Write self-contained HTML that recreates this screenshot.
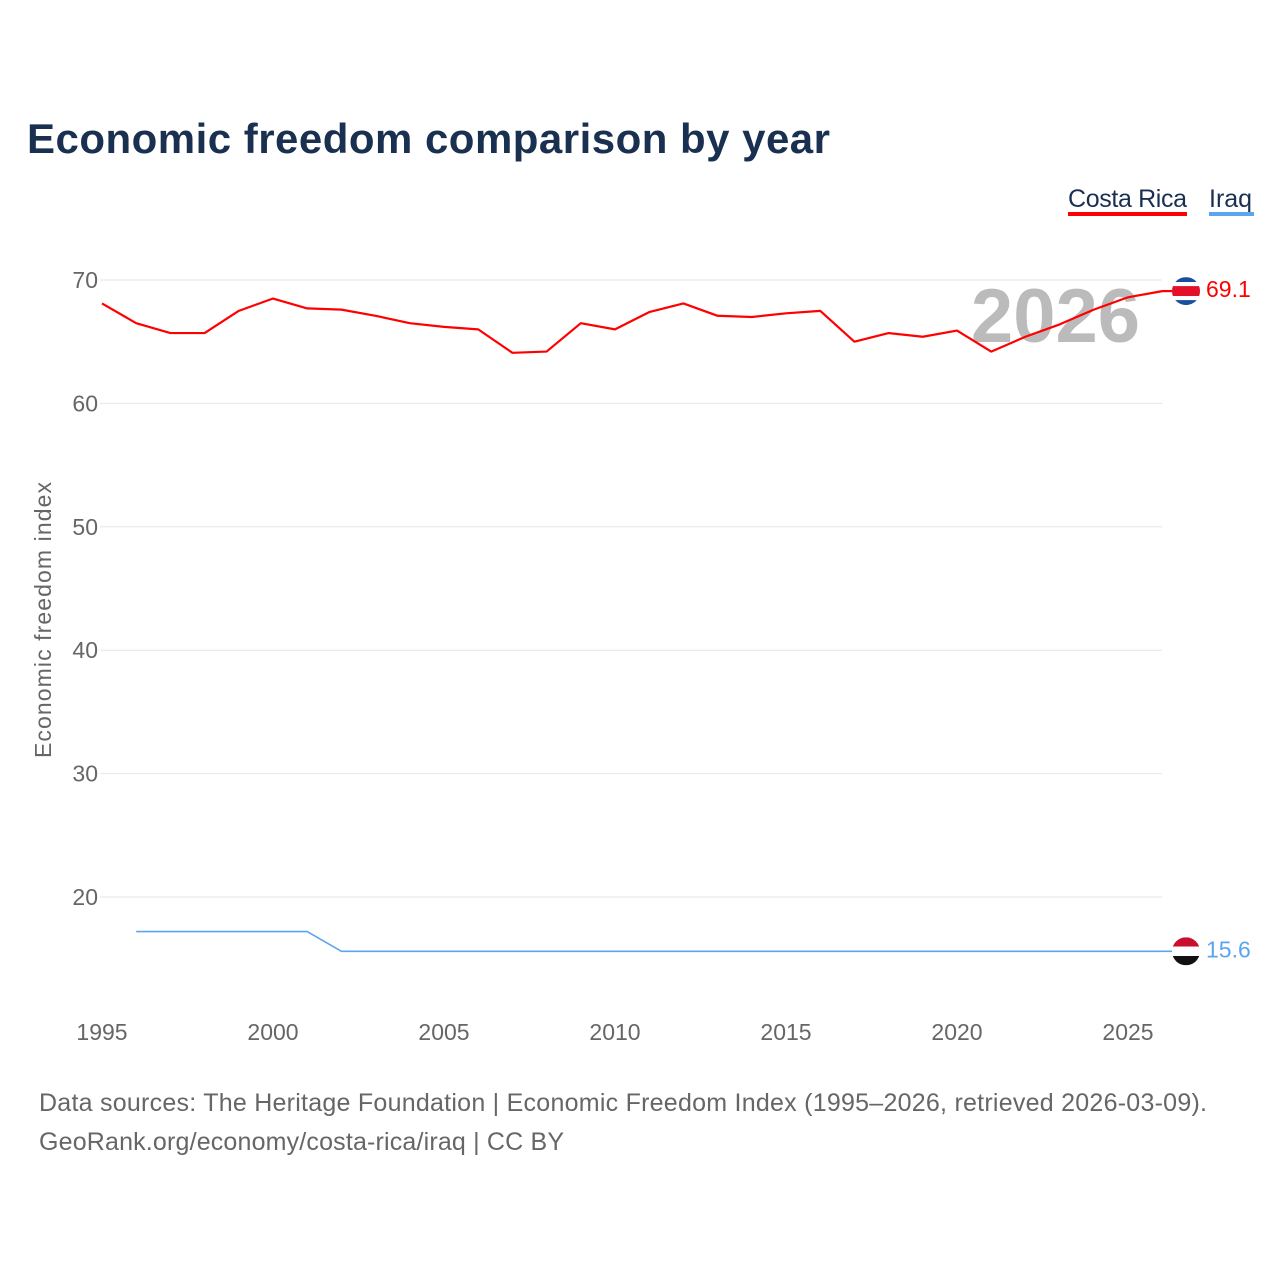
<!DOCTYPE html>
<html><head><meta charset="utf-8">
<style>
body{margin:0;background:#fff;width:1280px;height:1280px;overflow:hidden;font-family:"Liberation Sans",sans-serif}
</style></head>
<body>
<svg id="chart" width="1280" height="1280" xmlns="http://www.w3.org/2000/svg" font-family="Liberation Sans, sans-serif">
<defs>
<clipPath id="clipCR"><circle id="ccr" cx="1186" cy="290" r="14"/></clipPath>
<clipPath id="clipIQ"><circle id="ciq" cx="1186" cy="951" r="14"/></clipPath>
</defs>
<text x="27" y="153" font-size="42" font-weight="bold" fill="#1a3050" textLength="803">Economic freedom comparison by year</text>
<g><text x="1068" y="207" font-size="25" fill="#1a3050" textLength="119">Costa Rica</text><rect x="1068" y="212" width="119" height="4" fill="#ff0000"/></g>
<g><text x="1209" y="207" font-size="25" fill="#1a3050">Iraq</text><rect x="1209" y="212" width="45" height="4" fill="#5aa5f0"/></g>
<text transform="translate(51,620) rotate(-90)" text-anchor="middle" font-size="23" fill="#666" textLength="276">Economic freedom index</text>
<text x="1140" y="342" text-anchor="end" font-size="76" font-weight="bold" fill="#bbb">2026</text>
<g id="grid"></g><g id="xt"></g><g id="lines"></g>
<text x="39" y="1111" font-size="25" fill="#666" textLength="1168">Data sources: The Heritage Foundation | Economic Freedom Index (1995–2026, retrieved 2026-03-09).</text>
<text x="39" y="1150" font-size="25" fill="#666" textLength="525">GeoRank.org/economy/costa-rica/iraq | CC BY</text>
</svg>
<script>
const yTicks=[20,30,40,50,60,70];
const xTicks=[1995,2000,2005,2010,2015,2020,2025];
const crYears=[1995,1996,1997,1998,1999,2000,2001,2002,2003,2004,2005,2006,2007,2008,2009,2010,2011,2012,2013,2014,2015,2016,2017,2018,2019,2020,2021,2022,2023,2024,2025,2026];
const crValues=[68.1,66.5,65.7,65.7,67.5,68.5,67.7,67.6,67.1,66.5,66.2,66.0,64.1,64.2,66.5,66.0,67.4,68.1,67.1,67.0,67.3,67.5,65.0,65.7,65.4,65.9,64.2,65.4,66.4,67.6,68.6,69.1];
const iqYears=[1996,1997,1998,1999,2000,2001,2002,2003,2004,2005,2006,2007,2008,2009,2010,2011,2012,2013,2014,2015,2016,2017,2018,2019,2020,2021,2022,2023,2024,2025,2026];
const iqValues=[17.2,17.2,17.2,17.2,17.2,17.2,15.6,15.6,15.6,15.6,15.6,15.6,15.6,15.6,15.6,15.6,15.6,15.6,15.6,15.6,15.6,15.6,15.6,15.6,15.6,15.6,15.6,15.6,15.6,15.6,15.6];
const X=y=>102+(y-1995)*34.2;
const Y=v=>280+(70-v)*12.34;
const NS="http://www.w3.org/2000/svg";
function mk(tag,attrs,parent,txt){const e=document.createElementNS(NS,tag);for(const k in attrs)e.setAttribute(k,attrs[k]);if(txt!==undefined)e.textContent=txt;(typeof parent==='string'?document.getElementById(parent):parent).appendChild(e);return e;}
yTicks.forEach(t=>{
 const l=mk('line',{x1:100,x2:1162,y1:Y(t),y2:Y(t),stroke:'#e6e6e6','stroke-width':1},'grid');
 
 
 const tx=mk('text',{x:98,y:Y(t)+8,'text-anchor':'end','font-size':23,fill:'#666'},'grid',t);
 
 
});
xTicks.forEach(t=>{
 const tx=mk('text',{x:X(t),y:1040,'text-anchor':'middle','font-size':23,fill:'#666'},'xt',t);
 
 
});
function series(ys,vs,color,name,w,stripes,clip,circ){
 const p=mk('polyline',{points:ys.map((y,i)=>X(y)+','+Y(vs[i])).join(' '),fill:'none',stroke:color,'stroke-width':w,'stroke-linejoin':'round'},'lines');
 
 
 const last=vs[vs.length-1], cy=Y(last);
 mk('line',{x1:1162,x2:1172,y1:cy,y2:cy,stroke:color,'stroke-width':w},'lines');
 document.getElementById(circ).setAttribute('cy',cy);
 const g=mk('g',{'clip-path':'url(#'+clip+')'},'lines');
 
 
 let yy=cy-14;
 stripes.forEach(s=>{mk('rect',{x:1172,y:yy,width:28,height:s[1],fill:s[0]},g);yy+=s[1];});
 const lb=mk('text',{x:1206,y:cy+6,'font-size':23,fill:color},'lines',last.toFixed(1));
 
 
}
series(crYears,crValues,'#ff0000','costa-rica',2.2,[['#1a4fa0',5],['#fff',4],['#e3102a',10],['#fff',4],['#1a4fa0',5]],'clipCR','ccr');
series(iqYears,iqValues,'#5aa5f0','iraq',1.6,[['#c8102e',9.3],['#fff',9.4],['#111',9.3]],'clipIQ','ciq');
</script>
</body></html>
